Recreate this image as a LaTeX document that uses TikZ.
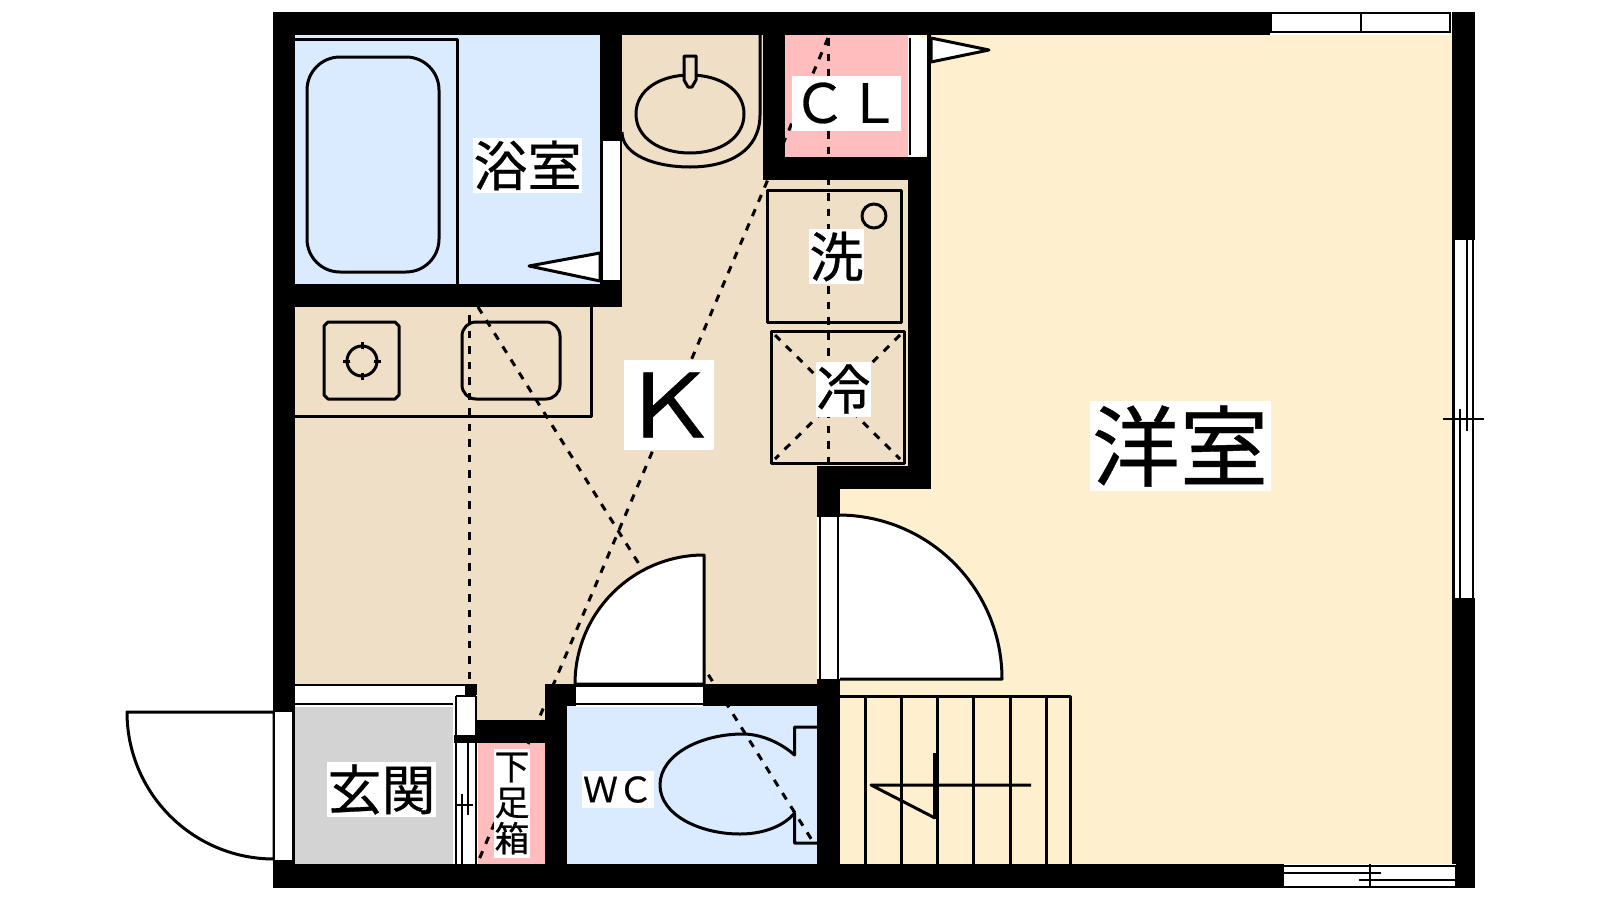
\documentclass[tikz,border=0pt]{standalone}
\usepackage{graphicx}
\usepackage{fontspec}
\newfontfamily\jpfont[FakeBold=0.5]{Noto Sans CJK JP}
\definecolor{bathblue}{HTML}{DAEBFF}
\definecolor{clpink}{HTML}{FFBDBD}
\definecolor{entrygray}{HTML}{D3D3D3}
\definecolor{kittan}{HTML}{EFDFC6}
\definecolor{roomcream}{HTML}{FEF0CF}
\tikzset{
  fx/.style={draw=black,line width=3pt,line join=round},
  wall/.style={fill=black,draw=none},
  gap/.style={fill=white,draw=none},
  sash/.style={draw=black,line width=2.6pt},
  dashline/.style={draw=black,line width=3pt,dash pattern=on 7.5pt off 8pt},
  label/.style={fill=white,inner sep=0pt,outer sep=0pt,align=center,text=black},
  lab55/.style={label,font=\jpfont\fontsize{54}{54}\selectfont,minimum height=55pt},
  lab36/.style={label,font=\jpfont\fontsize{35}{36}\selectfont},
  lab90/.style={label,font=\jpfont\fontsize{88}{90}\selectfont,minimum height=90pt}
}
\begin{document}
\begin{tikzpicture}[x=1pt,y=-1pt]
\useasboundingbox (0,0) rectangle (1600,900);
\fill[white] (0,0) rectangle (1600,900);
% room fills
\fill[roomcream] (840,470) rectangle (1456,866);
\fill[roomcream] (920,30) rectangle (1456,480);
\fill[kittan] (290,300) rectangle (820,700);
\fill[kittan] (600,30) rectangle (770,310);
\fill[kittan] (760,170) rectangle (915,470);
\fill[kittan] (470,690) rectangle (550,725);
\fill[bathblue] (290,30) rectangle (604,290);
\fill[clpink] (785,30) rectangle (908,160);
\fill[entrygray] (290,707) rectangle (453,870);
\fill[clpink] (478,740) rectangle (550,870);
\fill[bathblue] (560,700) rectangle (820,870);
% bath
\draw[fx] (295,39) -- (457,39) -- (457,284);
\draw[fx,rounded corners=33pt] (307,57) rectangle (439,272);
% kitchen counter
\draw[fx] (295,416) -- (591,416) -- (591,307);
\draw[fx] (328,322) -- (395,322) -- (399,326) -- (399,395) -- (395,399) -- (328,399) -- (324,395) -- (324,326) -- cycle;
\draw[fx] (362,361) circle[radius=15pt];
\draw[fx] (343,361) -- (381,361) (362,342) -- (362,380);
\fill[kittan] (362,361) circle[radius=12pt];
\draw[fx,rounded corners=14pt] (462,322) rectangle (560,399);
% sink
\draw[fx] (760,35) -- (760,115) .. controls (760,150) and (730,167) .. (690,167) .. controls (655,167) and (622,155) .. (622,132);
\draw[fx] (636,114) .. controls (636,90) and (660,75) .. (690,75) .. controls (720,75) and (744,90) .. (744,114) .. controls (744,138) and (720,153) .. (690,153) .. controls (660,153) and (636,138) .. (636,114) -- cycle;
\filldraw[fx,fill=kittan] (684,56) -- (696,56) -- (696,80) -- (692,87) -- (688,87) -- (684,80) -- cycle;
% washer and fridge
\draw[fx] (767,190) rectangle (901,322);
\draw[fx] (874,216) circle[radius=12pt];
\draw[fx] (771,331) rectangle (904,463);
% toilet
\draw[fx] (817,727) -- (794.5,727) -- (794.5,755) .. controls (780,742) and (760,734) .. (743,734) .. controls (700,734) and (660,755) .. (660,785) .. controls (660,815) and (700,834) .. (740,834) .. controls (765,834) and (785,825) .. (794.5,813) -- (794.5,843) -- (817,843);
% stairs
\draw[fx] (840,696) -- (1070,696) -- (1070,864);
\foreach \sx in {865,901,937,973.5,1010,1046.5} {\draw[fx] (\sx,696) -- (\sx,864);}
\draw[fx] (1031,785) -- (871,785) -- (935,818);
\draw[fx,line width=4pt] (935,819) -- (935,753);
% hidden lines
\draw[dashline] (469,315) -- (469,690);
\draw[dashline] (828,38) -- (828,470);
\draw[dashline] (828,38) -- (478,862);
\draw[dashline] (478,307) -- (815,845);
\draw[dashline] (775,335) -- (900,459);
\draw[dashline] (900,335) -- (775,459);
% doors
\filldraw[fx,fill=white] (127,712) .. controls (127,793.2) and (192.8,859) .. (274,859) -- (274,712) -- cycle;
\filldraw[fx,fill=white] (838,515) .. controls (928.6,515) and (1002,588.4) .. (1002,679) -- (838,679) -- cycle;
\filldraw[fx,fill=white] (575,684) .. controls (575,612.8) and (632.8,555) .. (704,555) -- (704,684) -- cycle;
\filldraw[fx,fill=white] (600,253) -- (529,266) -- (600,281) -- cycle;
\filldraw[fx,fill=white] (931,38) -- (989,50) -- (931,62) -- cycle;
% walls
\path[wall] (273,12) rectangle (1270,35);
\path[wall] (1452,12) rectangle (1475,888);
\path[wall] (273,12) rectangle (295,888);
\path[wall] (273,864) rectangle (1284,888);
\path[wall] (1456,864) rectangle (1475,888);
\path[wall] (273,284) rectangle (622,307);
\path[wall] (600,12) rectangle (622,307);
\path[wall] (763,12) rectangle (785,180);
\path[wall] (763,157) rectangle (931,180);
\path[wall] (908,157) rectangle (931,489);
\path[wall] (817,466) rectangle (931,489);
\path[wall] (817,466) rectangle (840,517);
\path[wall] (817,679) rectangle (840,888);
\path[wall] (545,684) rectangle (817,706);
\path[wall] (545,684) rectangle (567,888);
\path[wall] (477,720) rectangle (567,743);
\path[wall] (465,684) rectangle (477,696);
% openings
\path[gap] (603,141) rectangle (620,280);
\draw[sash] (601,141) -- (601,281);
\draw[sash] (621,141) -- (621,281);
\path[wall] (926.5,35) rectangle (931,157);
\path[gap] (908,38) rectangle (926.5,155);
\draw[sash] (910,38) -- (910,155);
\path[gap] (1270,12) rectangle (1452,35);
\draw[sash] (1271,13) rectangle (1450,32);
\draw[sash] (1361,13) -- (1361,32);
\path[gap] (1453,240) rectangle (1475,598);
\draw[sash] (1454,240) -- (1454,598);
\draw[sash] (1473,240) -- (1473,598);
\draw[sash] (1467,240) -- (1467,431);
\draw[sash] (1460,409) -- (1460,598);
\draw[sash] (1443,419) -- (1484,419);
\path[gap] (1284,864) rectangle (1456,888);
\draw[sash] (1284,866) -- (1456,866);
\draw[sash] (1284,887) -- (1456,887);
\draw[sash] (1284,873) -- (1381,873);
\draw[sash] (1359,880) -- (1456,880);
\draw[sash] (1370,864) -- (1370,888);
\draw[sash] (1456,866) -- (1456,887);
\path[gap] (817,517) rectangle (840,679);
\draw[sash] (820,517) -- (820,679);
\draw[sash] (838,517) -- (838,679);
\path[gap] (576,685) rectangle (703,707);
\draw[sash] (576,685.5) -- (703,685.5);
\draw[sash] (576,704) -- (703,704);
\draw[sash] (704,555) -- (704,706);
\path[gap] (275,712) rectangle (292,860);
\draw[sash] (274,712) -- (274,860);
\draw[sash] (293,712) -- (293,860);
% entry storage strips
\path[gap] (295,684) rectangle (465,707);
\draw[sash] (295,685) -- (465,685);
\draw[sash] (295,704) -- (453,704);
\path[gap] (455,695) rectangle (477,864);
\path[wall] (454,735) rectangle (477,743);
\draw[sash] (456,696) -- (476,696);
\draw[sash] (456,696) -- (456,867);
\draw[sash] (476,696) -- (476,867);
\draw[sash] (468,743) -- (468,815);
\draw[sash] (462,794) -- (462,867);
\draw[sash] (455,805) -- (473,805);
% labels
\node[lab55,minimum width=109pt] (bath) at (527.5,165.5) {浴室};
\node[lab55,minimum width=109pt] (cl) at (846.5,103) {ＣＬ};
\node[lab55,minimum width=55pt] (wash) at (836.5,256.5) {洗};
\node[lab55,minimum width=55pt] (fridge) at (843.5,389) {冷};
\node[lab55,minimum width=109pt] (entry) at (381.5,789.5) {玄関};
\node[lab36,minimum width=36pt,minimum height=109pt] (shoe) at (512,803.5) {下\\足\\箱};
\node[lab36,minimum width=72pt,minimum height=37pt] (wc) at (618,789.5) {ＷＣ};
\node[lab90,minimum width=90pt,text width=90pt] (k) at (669,405) {\makebox[90pt][c]{\scalebox{1.12}[1]{Ｋ}}};
\node[lab90,minimum width=181pt] (room) at (1180,446) {洋室};
\end{tikzpicture}
\end{document}
